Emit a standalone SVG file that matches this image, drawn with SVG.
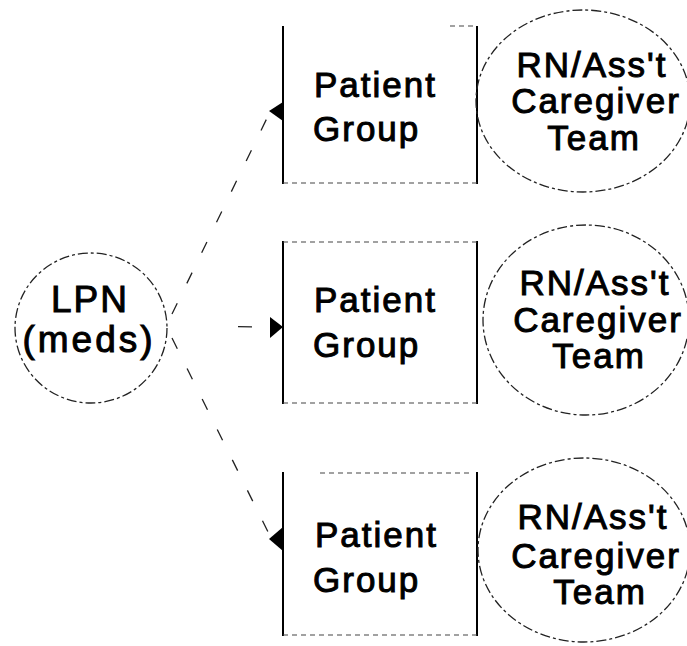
<svg xmlns="http://www.w3.org/2000/svg" width="687" height="646" viewBox="0 0 687 646">
<style>
.t{font-family:"Liberation Sans",Arial,Helvetica,sans-serif;font-size:35px;fill:#000;stroke:#000;stroke-width:1;letter-spacing:2px}
.m{text-anchor:middle}
.big{font-size:37px}
.side{stroke:#000;stroke-width:2;fill:none}
.edge{stroke:#444;stroke-width:1.2;fill:none;stroke-dasharray:5 4}
.ell{stroke:#222;stroke-width:1.3;fill:none;stroke-dasharray:10 3 3 3}
.conn{stroke:#222;stroke-width:1.3;fill:none;stroke-dasharray:12 22}
.ah{fill:#000}
</style>
<rect width="687" height="646" fill="#fff"/>
<g id="connectors">
<path class="conn" d="M172,314 L269,114"/>
<path class="conn" d="M172,326 L270,327" style="stroke-dasharray:0 66 14 40"/>
<path class="conn" d="M172,338 L270,536"/>
<polygon class="ah" points="269,111 283,102 283,121"/>
<polygon class="ah" points="270,317 283,327 270,338"/>
<polygon class="ah" points="269,539 283,527 283,551"/>
</g>
<g id="lpn">
<ellipse class="ell" cx="91" cy="328" rx="76" ry="75"/>
<text class="t m big" x="90" y="312">LPN</text>
<text class="t m big" x="89" y="352" style="letter-spacing:3px">(meds)</text>
</g>
<g id="pg1">
<line class="side" x1="283" y1="26" x2="283" y2="184"/>
<line class="side" x1="477" y1="26" x2="477" y2="184"/>
<line class="edge" x1="283" y1="183" x2="477" y2="183"/>
<line class="edge" x1="450" y1="26" x2="477" y2="26"/>
<text class="t" x="314" y="97">Patient</text>
<text class="t" x="313" y="141">Group</text>
</g>
<g id="pg2">
<line class="side" x1="283" y1="241" x2="283" y2="404"/>
<line class="side" x1="477" y1="241" x2="477" y2="404"/>
<line class="edge" x1="283" y1="242" x2="477" y2="242"/>
<line class="edge" x1="283" y1="403" x2="477" y2="403"/>
<text class="t" x="314" y="312">Patient</text>
<text class="t" x="313" y="357">Group</text>
</g>
<g id="pg3">
<line class="side" x1="283" y1="472" x2="283" y2="636"/>
<line class="side" x1="477" y1="472" x2="477" y2="636"/>
<line class="edge" x1="320" y1="473" x2="470" y2="473"/>
<line class="edge" x1="283" y1="635" x2="477" y2="635"/>
<text class="t" x="315" y="547">Patient</text>
<text class="t" x="313" y="592">Group</text>
</g>
<g id="rn1">
<ellipse class="ell" cx="583" cy="101" rx="107" ry="91"/>
<text class="t m" x="592" y="77">RN/Ass't</text>
<text class="t m" x="596" y="113">Caregiver</text>
<text class="t m" x="594" y="150">Team</text>
</g>
<g id="rn2">
<ellipse class="ell" cx="586" cy="320" rx="103" ry="95"/>
<text class="t m" x="595" y="295">RN/Ass't</text>
<text class="t m" x="598" y="332">Caregiver</text>
<text class="t m" x="599" y="368">Team</text>
</g>
<g id="rn3">
<ellipse class="ell" cx="584" cy="550" rx="106" ry="92"/>
<text class="t m" x="593" y="529">RN/Ass't</text>
<text class="t m" x="596" y="568">Caregiver</text>
<text class="t m" x="600" y="604">Team</text>
</g>
</svg>
